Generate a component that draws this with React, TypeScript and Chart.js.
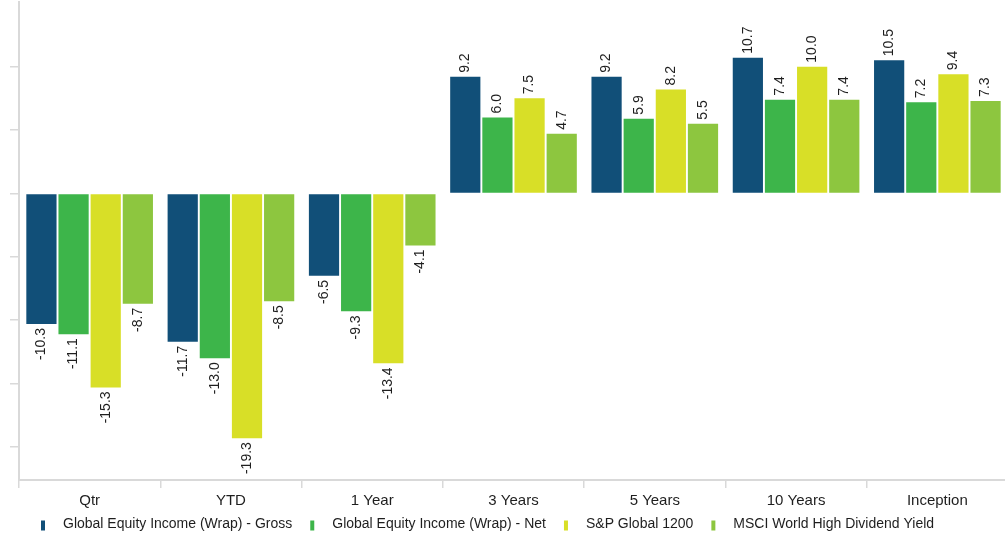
import React, { useEffect, useRef } from "react";
import { Chart, registerables } from "chart.js";

Chart.register(...registerables);

const categories = ["Qtr", "YTD", "1 Year", "3 Years", "5 Years", "10 Years", "Inception"];
const grossValues = [-10.3, -11.7, -6.5, 9.2, 9.2, 10.7, 10.5];
const netValues = [-11.1, -13.0, -9.3, 6.0, 5.9, 7.4, 7.2];
const sp1200Values = [-15.3, -19.3, -13.4, 7.5, 8.2, 10.0, 9.4];
const msciValues = [-8.7, -8.5, -4.1, 4.7, 5.5, 7.4, 7.3];
const seriesNames = [
  "Global Equity Income (Wrap) - Gross",
  "Global Equity Income (Wrap) - Net",
  "S&P Global 1200",
  "MSCI World High Dividend Yield",
];
const seriesColors = ["#114F78", "#3DB54A", "#D8DF27", "#8DC63F"];
const yTickValues = [-20, -15, -10, -5, 0, 5, 10];

const FONT = '"Liberation Sans", Arial, sans-serif';

const valueLabelPlugin = {
  id: "valueLabels",
  afterDatasetsDraw(chart: any) {
    const ctx = chart.ctx;
    ctx.save();
    ctx.font = `14px ${FONT}`;
    ctx.fillStyle = "#1e1e1e";
    ctx.textBaseline = "middle";
    chart.data.datasets.forEach((ds: any, di: number) => {
      const meta = chart.getDatasetMeta(di);
      meta.data.forEach((bar: any, i: number) => {
        const v = ds.data[i];
        ctx.save();
        ctx.translate(bar.x, bar.y);
        ctx.rotate(-Math.PI / 2);
        if (v >= 0) {
          ctx.textAlign = "left";
          ctx.fillText(v.toFixed(1), 4, 0);
        } else {
          ctx.textAlign = "right";
          ctx.fillText(v.toFixed(1), -4, 0);
        }
        ctx.restore();
      });
    });
    ctx.restore();
  },
};

const legendPlugin = {
  id: "customLegend",
  afterDraw(chart: any) {
    const ctx = chart.ctx;
    ctx.save();
    ctx.font = `14px ${FONT}`;
    ctx.textBaseline = "middle";
    ctx.textAlign = "left";
    let x = 41;
    const y = 524;
    seriesNames.forEach((name, i) => {
      ctx.fillStyle = seriesColors[i];
      ctx.fillRect(x, y - 3.5, 4, 10);
      ctx.fillStyle = "#1e1e1e";
      ctx.fillText(name, x + 22, y);
      x += 22 + ctx.measureText(name).width + 18;
    });
    ctx.restore();
  },
};

export default function App() {
  const canvasRef = useRef<HTMLCanvasElement | null>(null);

  useEffect(() => {
    if (!canvasRef.current) return;
    const seriesValues = [grossValues, netValues, sp1200Values, msciValues];
    const chart = new Chart(canvasRef.current, {
      type: "bar",
      data: {
        labels: categories,
        datasets: seriesNames.map((name, i) => ({
          label: name,
          data: seriesValues[i],
          backgroundColor: seriesColors[i],
          borderWidth: 0,
          categoryPercentage: 0.91,
          barPercentage: 0.94,
        })),
      },
      options: {
        animation: false,
        responsive: true,
        maintainAspectRatio: false,
        events: [],
        layout: { padding: { left: 0, right: 0, top: 2, bottom: 0 } },
        plugins: {
          legend: { display: false },
          tooltip: { enabled: false },
        },
        scales: {
          x: {
            afterFit: (scale: any) => {
              scale.height = 53;
            },
            grid: {
              drawOnChartArea: false,
              drawTicks: true,
              tickLength: 8,
              color: "#d9d9d9",
              lineWidth: 1.5,
              offset: true,
            },
            border: { display: true, color: "#d9d9d9", width: 2 },
            ticks: {
              color: "#1e1e1e",
              font: { size: 15, family: FONT },
              padding: 4,
              maxRotation: 0,
              autoSkip: false,
            },
          },
          y: {
            min: -22.6,
            max: 15.1,
            afterBuildTicks: (scale: any) => {
              scale.ticks = yTickValues.map((v) => ({ value: v }));
            },
            afterFit: (scale: any) => {
              scale.width = 19;
            },
            ticks: { display: false },
            grid: {
              drawOnChartArea: false,
              drawTicks: true,
              tickLength: 9,
              color: "#d9d9d9",
              lineWidth: 1.5,
            },
            border: { display: true, color: "#d9d9d9", width: 2 },
          },
        },
      },
      plugins: [valueLabelPlugin, legendPlugin],
    });
    return () => chart.destroy();
  }, []);

  return (
    <div
      style={{
        position: "fixed",
        left: 0,
        top: 0,
        width: 1005,
        height: 533,
        overflow: "hidden",
        background: "#fff",
      }}
    >
      <div style={{ position: "relative", width: 1008, height: 533 }}>
        <canvas ref={canvasRef} />
      </div>
    </div>
  );
}
